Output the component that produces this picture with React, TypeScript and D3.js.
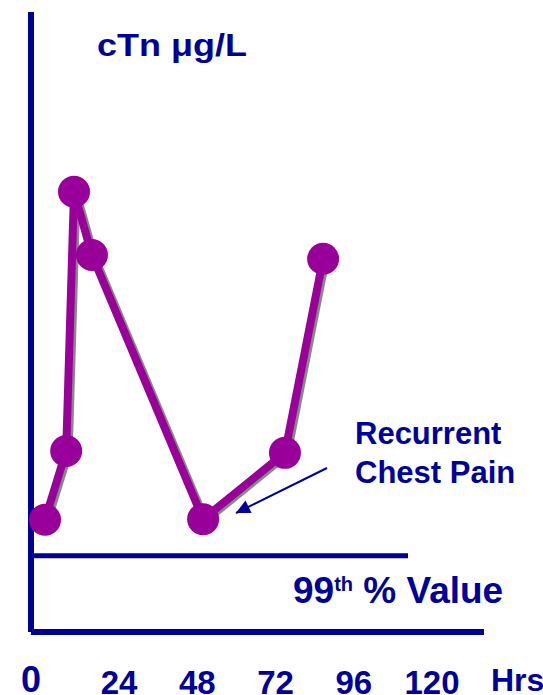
import React, { useEffect, useRef } from "react";
import * as d3 from "d3";

// hours after onset and troponin level (arbitrary units)
const hours = [1.3, 7.8, 10.2, 15.7, 49.8, 74.9, 86.6];
const ctn = [1.81, 2.92, 7.1, 6.08, 1.82, 2.89, 6.02];
const tickHours = [0, 24, 48, 72, 96, 120];
const refLevel = 1.23; // 99th percentile value

const NAVY = "#000099";
const PURPLE = "#990099";

export default function App() {
  const ref = useRef<SVGSVGElement | null>(null);
  useEffect(() => {
    const node = ref.current;
    if (!node) return;
    const svg = d3.select(node);
    svg.selectAll("*").remove();
    const w = 543, h = 695;
    const axisX = 31, axisTop = 12, axisBottom = 632;
    const x = d3.scaleLinear().domain([0, 120]).range([40.75, 432]);
    const y = d3.scaleLinear().domain([0, 10]).range([axisBottom, axisTop]);
    const font = "'Liberation Sans', Arial, sans-serif";

    svg.attr("viewBox", `0 0 ${w} ${h}`);

    // axes
    svg.append("line").attr("x1", axisX).attr("x2", axisX).attr("y1", axisTop).attr("y2", axisBottom)
      .attr("stroke", NAVY).attr("stroke-width", 6);
    svg.append("line").attr("x1", axisX).attr("x2", 484).attr("y1", axisBottom).attr("y2", axisBottom)
      .attr("stroke", NAVY).attr("stroke-width", 6);
    svg.append("line").attr("x1", axisX).attr("x2", 408).attr("y1", y(refLevel)).attr("y2", y(refLevel))
      .attr("stroke", NAVY).attr("stroke-width", 5);

    // tick labels
    svg.selectAll("text.tick").data(tickHours).enter().append("text")
      .attr("class", "tick")
      .attr("x", (d) => (d === 0 ? axisX : x(d)))
      .attr("y", (d) => (d === 0 ? 692 : 694))
      .attr("text-anchor", "middle")
      .attr("font-family", font).attr("font-weight", "bold")
      .attr("font-size", (d) => (d === 0 ? 36 : 33))
      .attr("fill", NAVY)
      .text((d) => d);
    svg.append("text").attr("x", 491).attr("y", 691)
      .attr("font-family", font).attr("font-weight", "bold").attr("font-size", 32)
      .attr("fill", NAVY).text("Hrs");

    // title
    svg.append("text").attr("x", 97).attr("y", 56)
      .attr("font-family", font).attr("font-weight", "bold").attr("font-size", 32)
      .attr("textLength", 150).attr("lengthAdjust", "spacingAndGlyphs")
      .attr("fill", NAVY).text("cTn μg/L");

    // 99th label
    const lab = svg.append("text").attr("x", 293).attr("y", 603)
      .attr("font-family", font).attr("font-weight", "bold").attr("font-size", 37)
      .attr("fill", NAVY);
    lab.append("tspan").text("99");
    lab.append("tspan").attr("font-size", 20).attr("dy", -12).text("th");
    lab.append("tspan").attr("dy", 12).text(" % Value");

    // data line with shadow
    const pts = hours.map((d, i) => [x(d), y(ctn[i])] as [number, number]);
    const line = d3.line();
    svg.append("path").attr("d", line(pts.map(([a, b]) => [a + 2.5, b + 1.5] as [number, number]))!)
      .attr("fill", "none").attr("stroke", "#888888").attr("stroke-width", 8).attr("stroke-linejoin", "round");
    svg.append("path").attr("d", line(pts)!)
      .attr("fill", "none").attr("stroke", PURPLE).attr("stroke-width", 8).attr("stroke-linejoin", "round");
    svg.selectAll("circle").data(pts).enter().append("circle")
      .attr("cx", (d) => d[0]).attr("cy", (d) => d[1]).attr("r", 16).attr("fill", PURPLE);

    // annotation
    const defs = svg.append("defs");
    defs.append("marker").attr("id", "ah").attr("viewBox", "0 0 10 10").attr("refX", 10).attr("refY", 5)
      .attr("markerWidth", 9).attr("markerHeight", 7).attr("markerUnits", "strokeWidth").attr("orient", "auto")
      .append("path").attr("d", "M0,0L10,5L0,10Z").attr("fill", NAVY);
    svg.append("line").attr("x1", 327).attr("y1", 468).attr("x2", 236).attr("y2", 513)
      .attr("stroke", NAVY).attr("stroke-width", 2).attr("marker-end", "url(#ah)");
    const ann = svg.append("text").attr("font-family", font).attr("font-weight", "bold").attr("font-size", 31)
      .attr("fill", NAVY);
    ann.append("tspan").attr("x", 355).attr("y", 444).text("Recurrent");
    ann.append("tspan").attr("x", 355).attr("y", 483).text("Chest Pain");
  }, []);
  return (
    <svg ref={ref} width={543} height={695}
      style={{ position: "absolute", left: 0, top: 0, background: "#fff" }} />
  );
}
